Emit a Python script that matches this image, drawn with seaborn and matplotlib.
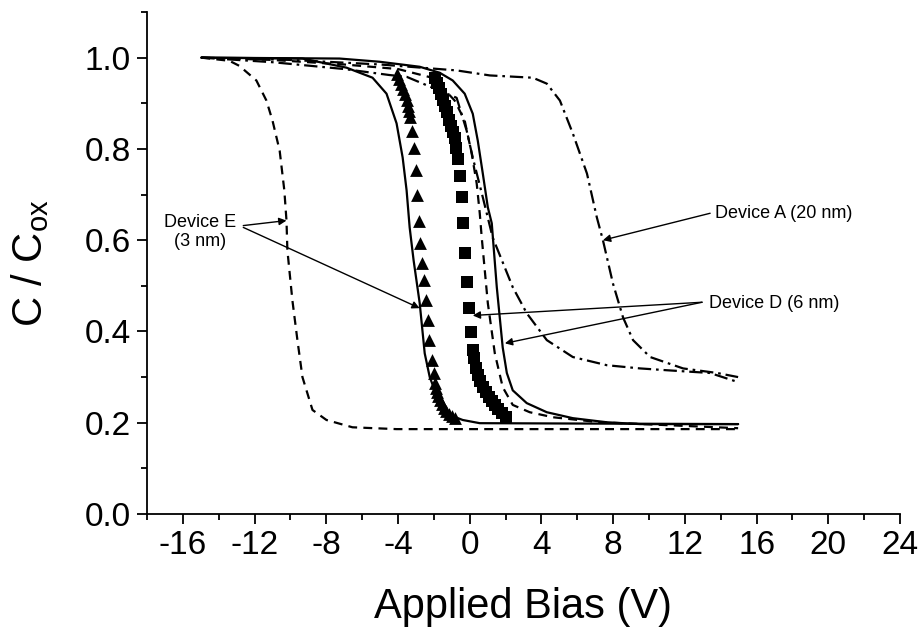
import matplotlib
matplotlib.use("Agg")
import matplotlib.pyplot as plt
import seaborn as sns
import numpy as np

# ---------------- data ----------------
# Device E, dashed curve
e_dash_x = [-14.97, -13.4, -12.85, -11.9, -11.34, -11.0, -10.6, -10.34, -10.22, -10.17,
            -9.89, -9.61, -9.33, -8.77, -7.99, -6.54, -4.08, 14.97]
e_dash_y = [1.0, 0.993, 0.982, 0.95, 0.906, 0.862, 0.796, 0.709, 0.643, 0.578,
            0.468, 0.381, 0.30, 0.228, 0.206, 0.19, 0.186, 0.186]

# Device E, triangles
e_tri_x = [-4.08, -3.97, -3.85, -3.74, -3.63, -3.52, -3.46, -3.41, -3.35, -3.24, -3.13,
           -3.02, -2.96, -2.85, -2.79, -2.68, -2.57, -2.46, -2.35, -2.29, -2.12, -2.01,
           -1.96, -1.90, -1.84, -1.79, -1.68, -1.56, -1.45, -1.34, -1.17, -1.01, -0.84]
e_tri_y = [0.965, 0.954, 0.943, 0.932, 0.921, 0.908, 0.895, 0.884, 0.869, 0.840, 0.801,
           0.753, 0.698, 0.641, 0.593, 0.549, 0.512, 0.468, 0.425, 0.381, 0.337, 0.309,
           0.287, 0.276, 0.267, 0.258, 0.249, 0.241, 0.232, 0.225, 0.219, 0.214, 0.210]

# Device E, solid curve
e_solid_x = [-14.97, -9.33, -6.87, -5.42, -4.64, -4.08, -3.74, -3.52, -3.35, -3.13,
             -2.79, -2.51, -2.23, -1.68, -1.12, -0.39, 0.56, 14.97]
e_solid_y = [1.0, 0.998, 0.978, 0.956, 0.921, 0.856, 0.781, 0.709, 0.628, 0.556,
             0.462, 0.352, 0.300, 0.243, 0.217, 0.206, 0.199, 0.197]

# Device D, squares
d_sq_x = [-1.96, -1.84, -1.73, -1.62, -1.51, -1.40, -1.28, -1.17, -1.06, -0.95, -0.84,
          -0.78, -0.67, -0.56, -0.45, -0.39, -0.28, -0.17, -0.06, 0.06, 0.17, 0.22,
          0.34, 0.45, 0.56, 0.73, 0.89, 1.06, 1.23, 1.40, 1.56, 1.79, 2.01]
d_sq_y = [0.956, 0.945, 0.934, 0.921, 0.908, 0.895, 0.880, 0.864, 0.851, 0.838, 0.825,
          0.803, 0.777, 0.740, 0.694, 0.637, 0.573, 0.508, 0.451, 0.398, 0.359, 0.341,
          0.319, 0.304, 0.291, 0.278, 0.267, 0.256, 0.247, 0.239, 0.230, 0.221, 0.212]

# Device D, solid curve
d_solid_x = [-14.97, -7.26, -5.03, -2.79, -1.68, -0.95, -0.28, 0.17, 0.45, 0.73, 1.01,
             1.23, 1.51, 1.84, 2.07, 2.40, 3.18, 4.30, 5.75, 7.65, 9.50, 14.97]
d_solid_y = [1.0, 0.998, 0.991, 0.980, 0.967, 0.950, 0.921, 0.877, 0.818, 0.746, 0.672,
             0.637, 0.497, 0.365, 0.309, 0.271, 0.243, 0.223, 0.210, 0.201, 0.197, 0.197]

# Device D, dashed curve
d_dash_x = [-14.97, -11.0, -7.0, -4.0, -2.0, -0.84, -0.28, 0.11, 0.39, 0.56, 0.67,
            1.01, 1.40, 1.84, 2.40, 3.35, 4.64, 7.26, 14.97]
d_dash_y = [1.0, 0.995, 0.985, 0.975, 0.955, 0.906, 0.862, 0.790, 0.724, 0.659, 0.606,
            0.462, 0.352, 0.278, 0.239, 0.223, 0.212, 0.201, 0.188]

# Device D, dash-dot curve
d_dd_x = [-14.97, -11.0, -7.0, -4.5, -3.52, -0.73, -0.17, 0.17, 0.73, 1.28, 2.40, 3.18,
          4.30, 5.75, 7.65, 9.50, 11.0, 13.4, 14.97]
d_dd_y = [1.0, 0.99, 0.975, 0.962, 0.958, 0.912, 0.840, 0.781, 0.694, 0.606, 0.497, 0.440,
          0.381, 0.344, 0.326, 0.319, 0.315, 0.309, 0.289]

# Device A, dash-dot curve
a_dd_x = [-14.97, -10.0, -5.0, -0.73, 1.12, 3.52, 4.30, 5.03, 5.75, 6.54, 7.09, 7.43,
          7.99, 8.55, 9.11, 10.06, 11.90, 13.80, 14.97]
a_dd_y = [1.0, 0.995, 0.985, 0.972, 0.961, 0.956, 0.943, 0.906, 0.834, 0.746, 0.650, 0.600,
          0.505, 0.431, 0.381, 0.344, 0.319, 0.309, 0.300]

x_ticks = [-16, -12, -8, -4, 0, 4, 8, 12, 16, 20, 24]
y_ticks = [0.0, 0.2, 0.4, 0.6, 0.8, 1.0]

# ---------------- style ----------------
sns.set_style("ticks")
plt.rcParams["font.family"] = ["Liberation Sans", "DejaVu Sans"]
plt.rcParams["mathtext.fontset"] = "custom"
plt.rcParams["mathtext.rm"] = "Liberation Sans"
plt.rcParams["mathtext.it"] = "Liberation Sans:italic"
plt.rcParams["text.color"] = "black"
plt.rcParams["axes.labelcolor"] = "black"
plt.rcParams["xtick.color"] = "black"
plt.rcParams["ytick.color"] = "black"

fig = plt.figure(figsize=(9.21, 6.27), dpi=100)
ax = fig.add_axes([147 / 921, 113 / 627, 753 / 921, 502 / 627])

lw = 1.6
dash = (0, (4.0, 2.8))
dashdot = (0, (6, 2.2, 1.2, 2.2))

sns.lineplot(x=e_dash_x, y=e_dash_y, ax=ax, color="black", lw=lw, linestyle=dash,
             sort=False, estimator=None)
sns.lineplot(x=e_solid_x, y=e_solid_y, ax=ax, color="black", lw=lw,
             sort=False, estimator=None)
sns.lineplot(x=d_solid_x, y=d_solid_y, ax=ax, color="black", lw=lw,
             sort=False, estimator=None)
sns.lineplot(x=d_dash_x, y=d_dash_y, ax=ax, color="black", lw=lw, linestyle=dash,
             sort=False, estimator=None)
sns.lineplot(x=d_dd_x, y=d_dd_y, ax=ax, color="black", lw=lw, linestyle=dashdot,
             sort=False, estimator=None)
sns.lineplot(x=a_dd_x, y=a_dd_y, ax=ax, color="black", lw=lw, linestyle=dashdot,
             sort=False, estimator=None)

sns.scatterplot(x=e_tri_x, y=e_tri_y, ax=ax, marker="^", s=85, color="black",
                edgecolor="black", linewidth=0, zorder=5)
sns.scatterplot(x=d_sq_x, y=d_sq_y, ax=ax, marker="s", s=68, color="black",
                edgecolor="black", linewidth=0, zorder=5)

# ---------------- axes ----------------
ax.set_xlim(-18, 24)
ax.set_ylim(0, 1.1)
ax.set_xticks(x_ticks)
ax.set_xticklabels([str(t) for t in x_ticks])
ax.set_xticks(np.arange(-18, 25, 2), minor=True)
ax.set_yticks(y_ticks)
ax.set_yticklabels([f"{t:.1f}" for t in y_ticks])
ax.set_yticks(np.arange(0, 1.11, 0.1), minor=True)
sns.despine(ax=ax)
for s in ["left", "bottom"]:
    ax.spines[s].set_linewidth(1.3)
    ax.spines[s].set_color("black")
ax.tick_params(which="major", direction="out", length=7.5, width=1.3, labelsize=24,
               colors="black", labelcolor="black", pad=4)
ax.tick_params(which="minor", direction="out", length=4.3, width=1.3, colors="black")
ax.set_xlabel("Applied Bias (V)", fontsize=30, labelpad=19, color="black")
ax.set_ylabel(r"C / C$_{\mathrm{ox}}$", fontsize=30, labelpad=24, color="black")

# ---------------- annotations ----------------
arrow = dict(arrowstyle="-|>", color="black", lw=1.0, mutation_scale=11,
             shrinkA=0, shrinkB=0)
ax.text(13.69, 0.659, "Device A (20 nm)", fontsize=13, ha="left", va="center",
        color="black")
ax.annotate("", xy=(7.43, 0.600), xytext=(13.41, 0.659), arrowprops=arrow)

ax.text(13.35, 0.462, "Device D (6 nm)", fontsize=13, ha="left", va="center",
        color="black")
ax.annotate("", xy=(0.17, 0.435), xytext=(12.96, 0.464), arrowprops=arrow)
ax.annotate("", xy=(1.96, 0.374), xytext=(12.96, 0.464), arrowprops=arrow)

ax.text(-13.02, 0.617, "Device E\n(3 nm)", fontsize=13, ha="right", va="center",
        multialignment="center", linespacing=1.15, color="black")
ax.annotate("", xy=(-10.22, 0.643), xytext=(-12.63, 0.632), arrowprops=arrow)
ax.annotate("", xy=(-2.79, 0.451), xytext=(-12.63, 0.628), arrowprops=arrow)

fig.savefig("out.png", dpi=100)
